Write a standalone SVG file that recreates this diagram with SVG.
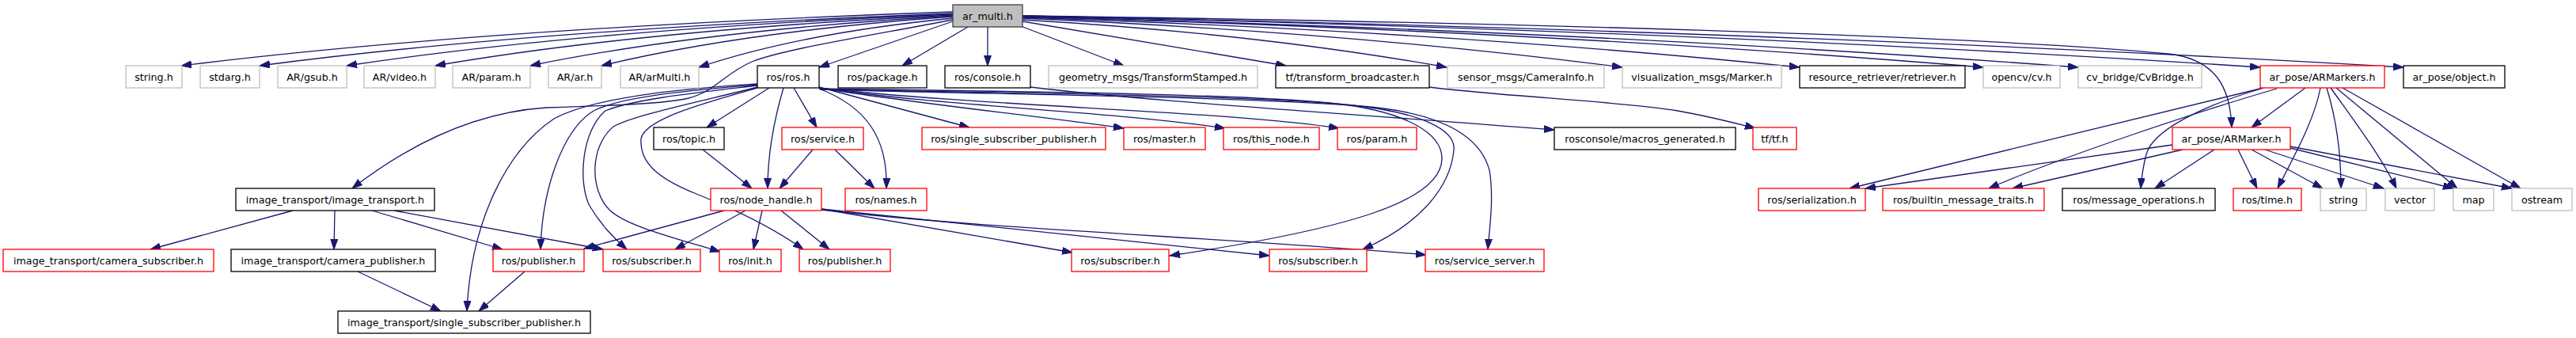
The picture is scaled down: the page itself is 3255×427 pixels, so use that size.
<svg xmlns="http://www.w3.org/2000/svg" width="3255" height="427" viewBox="0 0 3255 427">
<defs>
<marker id="arr" markerUnits="userSpaceOnUse" markerWidth="14" markerHeight="10" refX="13" refY="4.5" orient="auto">
<path d="M0,0 L13,4.5 L0,9 z" fill="#191970" stroke="#191970" stroke-width="1"/>
</marker>
<style>
.e path{fill:none;stroke:#191970;stroke-width:1.3;marker-end:url(#arr)}
.node rect{fill:#fff;stroke-width:1.3}
.b rect{stroke:#000}
.r rect{stroke:#ff0000}
.g rect{stroke:#bfbfbf}
.root rect{fill:#bfbfbf;stroke:#404040}
.node text{font-family:"DejaVu Sans","Liberation Sans",sans-serif;font-size:12.7px;text-anchor:middle;fill:#000}
</style>
</defs>
<rect width="3255" height="427" fill="#fff"/>
<g class="e" id="edges">
<path d="M1204,15 Q619,35 229,83"/>
<path d="M1204,17 Q678,37 328,83"/>
<path d="M1204,18 Q744,37 438,83"/>
<path d="M1204,19 Q812,38 550,83"/>
<path d="M1204,20 Q884,39 670,83"/>
<path d="M1204,21 Q938,40 760,83"/>
<path d="M1204,23 Q1011,42 883,85"/>
<path d="M1204,27 L1035,85"/>
<path d="M1223,34 L1140,83"/>
<path d="M1248,34 L1248,83"/>
<path d="M1204,25 C1100,45 990,62 950,78 C915,93 905,115 870,124 C840,131 780,133 690,136 C600,142 520,180 445,238"/>
<path d="M1290,33 L1420,83"/>
<path d="M1292,27 L1625,83"/>
<path d="M1292,25 Q1587,42 1828,85"/>
<path d="M1292,23 Q1709,41 2050,85"/>
<path d="M1292,22 Q1832,40 2274,85"/>
<path d="M1292,21 Q1960,40 2506,85"/>
<path d="M1292,21 Q2026,40 2626,85"/>
<path d="M1292,20 Q2152,39 2856,85"/>
<path d="M1292,20 Q2252,39 3037,85"/>
<path d="M1292,20 C1900,28 2500,45 2740,68 C2800,75 2818,110 2820,161"/>
<path d="M957,106 C900,110 760,118 700,150 C640,190 595,280 590,393"/>
<path d="M957,107 C890,113 790,120 750,140 C710,165 685,240 683,315"/>
<path d="M957,108 C890,116 800,125 765,140 C735,165 730,230 745,260 C760,285 775,300 792,315"/>
<path d="M957,110 C900,125 800,145 775,160 C745,185 745,240 770,265 C790,285 850,300 910,318"/>
<path d="M957,111 C890,130 815,150 810,175 C808,205 830,225 880,245 C930,265 980,290 1015,315"/>
<path d="M972,111 L893,161"/>
<path d="M990,111 C980,145 970,190 970,238"/>
<path d="M1003,111 L1032,161"/>
<path d="M1035,112 C1095,135 1122,175 1120,238"/>
<path d="M1035,110 L1225,161"/>
<path d="M1035,111 C1150,130 1300,145 1420,162"/>
<path d="M1035,111 C1200,135 1400,140 1548,162"/>
<path d="M1035,111 C1250,135 1550,140 1692,162"/>
<path d="M1036,112 C1300,116 1550,118 1680,130 C1780,140 1822,170 1822,200 C1822,255 1700,290 1478,323"/>
<path d="M1036,113 C1300,118 1560,120 1700,132 C1800,142 1840,165 1837,190 C1832,240 1790,285 1722,315"/>
<path d="M1036,113 C1300,120 1560,122 1720,134 C1820,142 1870,170 1882,215 C1888,250 1882,290 1880,315"/>
<path d="M1302,110 C1450,128 1700,143 1964,164"/>
<path d="M1806,110 C1900,122 2050,128 2120,140 C2160,147 2190,155 2218,162"/>
<path d="M888,189 L950,238"/>
<path d="M1027,189 L985,238"/>
<path d="M1055,189 L1105,238"/>
<path d="M942,266 L853,315"/>
<path d="M963,266 L952,315"/>
<path d="M987,266 L1048,315"/>
<path d="M915,266 L738,314"/>
<path d="M1038,264 L1355,319"/>
<path d="M1038,264 L1604,323"/>
<path d="M1038,265 C1250,290 1550,300 1802,322"/>
<path d="M370,266 L190,315"/>
<path d="M423,266 L422,315"/>
<path d="M470,266 L635,315"/>
<path d="M498,266 L762,315"/>
<path d="M452,343 L557,393"/>
<path d="M663,343 L605,393"/>
<path d="M2913,111 L2845,161"/>
<path d="M2932,111 C2925,150 2900,195 2878,238"/>
<path d="M2940,111 C2952,150 2958,190 2958,238"/>
<path d="M2945,111 C2980,160 3010,200 3028,238"/>
<path d="M2952,111 L3105,238"/>
<path d="M2960,111 L3185,238"/>
<path d="M2860,111 L2337,238"/>
<path d="M2877,112 C2780,140 2600,200 2513,238"/>
<path d="M2857,112 C2780,135 2720,165 2712,195 C2708,210 2706,225 2705,238"/>
<path d="M2745,183 L2357,238"/>
<path d="M2758,189 L2543,238"/>
<path d="M2798,189 L2723,238"/>
<path d="M2828,189 L2852,238"/>
<path d="M2845,189 L2935,238"/>
<path d="M2862,189 L3012,238"/>
<path d="M2894,187 L3100,238"/>
<path d="M2894,185 L3174,238"/>
</g>
<g id="n_ar_multi" class="node root"><rect x="1204" y="6" width="88" height="28"/><text x="1248" y="24.5">ar_multi.h</text></g>
<g id="n_string_h" class="node g"><rect x="159" y="83" width="71" height="28"/><text x="194.5" y="101.5">string.h</text></g>
<g id="n_stdarg" class="node g"><rect x="253" y="83" width="75" height="28"/><text x="290.5" y="101.5">stdarg.h</text></g>
<g id="n_gsub" class="node g"><rect x="351" y="83" width="87" height="28"/><text x="394.5" y="101.5">AR/gsub.h</text></g>
<g id="n_video" class="node g"><rect x="460" y="83" width="90" height="28"/><text x="505" y="101.5">AR/video.h</text></g>
<g id="n_param_ar" class="node g"><rect x="572" y="83" width="98" height="28"/><text x="621" y="101.5">AR/param.h</text></g>
<g id="n_ar" class="node g"><rect x="693" y="83" width="67" height="28"/><text x="726.5" y="101.5">AR/ar.h</text></g>
<g id="n_armulti" class="node g"><rect x="784" y="83" width="99" height="28"/><text x="833.5" y="101.5">AR/arMulti.h</text></g>
<g id="n_ros" class="node b"><rect x="957" y="83" width="78" height="28"/><text x="996" y="101.5">ros/ros.h</text></g>
<g id="n_package" class="node b"><rect x="1059" y="83" width="112" height="28"/><text x="1115" y="101.5">ros/package.h</text></g>
<g id="n_console" class="node b"><rect x="1194" y="83" width="108" height="28"/><text x="1248" y="101.5">ros/console.h</text></g>
<g id="n_geom" class="node g"><rect x="1325" y="83" width="264" height="28"/><text x="1457" y="101.5">geometry_msgs/TransformStamped.h</text></g>
<g id="n_tfb" class="node b"><rect x="1612" y="83" width="194" height="28"/><text x="1709" y="101.5">tf/transform_broadcaster.h</text></g>
<g id="n_caminfo" class="node g"><rect x="1829" y="83" width="198" height="28"/><text x="1928" y="101.5">sensor_msgs/CameraInfo.h</text></g>
<g id="n_marker" class="node g"><rect x="2050" y="83" width="201" height="28"/><text x="2150.5" y="101.5">visualization_msgs/Marker.h</text></g>
<g id="n_retriever" class="node b"><rect x="2274" y="83" width="209" height="28"/><text x="2378.5" y="101.5">resource_retriever/retriever.h</text></g>
<g id="n_cv" class="node g"><rect x="2506" y="83" width="97" height="28"/><text x="2554.5" y="101.5">opencv/cv.h</text></g>
<g id="n_cvbridge" class="node g"><rect x="2626" y="83" width="156" height="28"/><text x="2704" y="101.5">cv_bridge/CvBridge.h</text></g>
<g id="n_armarkers" class="node r"><rect x="2856" y="83" width="157" height="28"/><text x="2934.5" y="101.5">ar_pose/ARMarkers.h</text></g>
<g id="n_object" class="node b"><rect x="3037" y="83" width="128" height="28"/><text x="3101" y="101.5">ar_pose/object.h</text></g>
<g id="n_topic" class="node b"><rect x="826" y="161" width="89" height="28"/><text x="870.5" y="179.5">ros/topic.h</text></g>
<g id="n_service" class="node r"><rect x="988" y="161" width="103" height="28"/><text x="1039.5" y="179.5">ros/service.h</text></g>
<g id="n_rssp" class="node r"><rect x="1165" y="161" width="232" height="28"/><text x="1281" y="179.5">ros/single_subscriber_publisher.h</text></g>
<g id="n_master" class="node r"><rect x="1420" y="161" width="103" height="28"/><text x="1471.5" y="179.5">ros/master.h</text></g>
<g id="n_thisnode" class="node r"><rect x="1546" y="161" width="121" height="28"/><text x="1606.5" y="179.5">ros/this_node.h</text></g>
<g id="n_param" class="node r"><rect x="1690" y="161" width="100" height="28"/><text x="1740" y="179.5">ros/param.h</text></g>
<g id="n_macros" class="node b"><rect x="1964" y="161" width="229" height="28"/><text x="2078.5" y="179.5">rosconsole/macros_generated.h</text></g>
<g id="n_tf" class="node r"><rect x="2215" y="161" width="55" height="28"/><text x="2242.5" y="179.5">tf/tf.h</text></g>
<g id="n_armarker" class="node r"><rect x="2745" y="161" width="149" height="28"/><text x="2819.5" y="179.5">ar_pose/ARMarker.h</text></g>
<g id="n_it" class="node b"><rect x="298" y="238" width="251" height="28"/><text x="423.5" y="256.5">image_transport/image_transport.h</text></g>
<g id="n_nh" class="node r"><rect x="898" y="238" width="140" height="28"/><text x="968" y="256.5">ros/node_handle.h</text></g>
<g id="n_names" class="node r"><rect x="1068" y="238" width="103" height="28"/><text x="1119.5" y="256.5">ros/names.h</text></g>
<g id="n_ser" class="node r"><rect x="2222" y="238" width="135" height="28"/><text x="2289.5" y="256.5">ros/serialization.h</text></g>
<g id="n_bmt" class="node r"><rect x="2379" y="238" width="204" height="28"/><text x="2481" y="256.5">ros/builtin_message_traits.h</text></g>
<g id="n_mo" class="node b"><rect x="2606" y="238" width="193" height="28"/><text x="2702.5" y="256.5">ros/message_operations.h</text></g>
<g id="n_time" class="node r"><rect x="2822" y="238" width="86" height="28"/><text x="2865" y="256.5">ros/time.h</text></g>
<g id="n_string" class="node g"><rect x="2932" y="238" width="58" height="28"/><text x="2961" y="256.5">string</text></g>
<g id="n_vector" class="node g"><rect x="3014" y="238" width="62" height="28"/><text x="3045" y="256.5">vector</text></g>
<g id="n_map" class="node g"><rect x="3100" y="238" width="51" height="28"/><text x="3125.5" y="256.5">map</text></g>
<g id="n_ostream" class="node g"><rect x="3174" y="238" width="76" height="28"/><text x="3212" y="256.5">ostream</text></g>
<g id="n_camsub" class="node r"><rect x="4" y="315" width="266" height="28"/><text x="137" y="333.5">image_transport/camera_subscriber.h</text></g>
<g id="n_campub" class="node b"><rect x="292" y="315" width="258" height="28"/><text x="421" y="333.5">image_transport/camera_publisher.h</text></g>
<g id="n_pubA" class="node r"><rect x="623" y="315" width="115" height="28"/><text x="680.5" y="333.5">ros/publisher.h</text></g>
<g id="n_subA" class="node r"><rect x="762" y="315" width="123" height="28"/><text x="823.5" y="333.5">ros/subscriber.h</text></g>
<g id="n_init" class="node r"><rect x="909" y="315" width="78" height="28"/><text x="948" y="333.5">ros/init.h</text></g>
<g id="n_pubB" class="node r"><rect x="1010" y="315" width="115" height="28"/><text x="1067.5" y="333.5">ros/publisher.h</text></g>
<g id="n_subC" class="node r"><rect x="1354" y="315" width="123" height="28"/><text x="1415.5" y="333.5">ros/subscriber.h</text></g>
<g id="n_subD" class="node r"><rect x="1604" y="315" width="123" height="28"/><text x="1665.5" y="333.5">ros/subscriber.h</text></g>
<g id="n_ss" class="node r"><rect x="1801" y="315" width="150" height="28"/><text x="1876" y="333.5">ros/service_server.h</text></g>
<g id="n_itssp" class="node b"><rect x="427" y="393" width="319" height="28"/><text x="586.5" y="411.5">image_transport/single_subscriber_publisher.h</text></g>
</svg>
